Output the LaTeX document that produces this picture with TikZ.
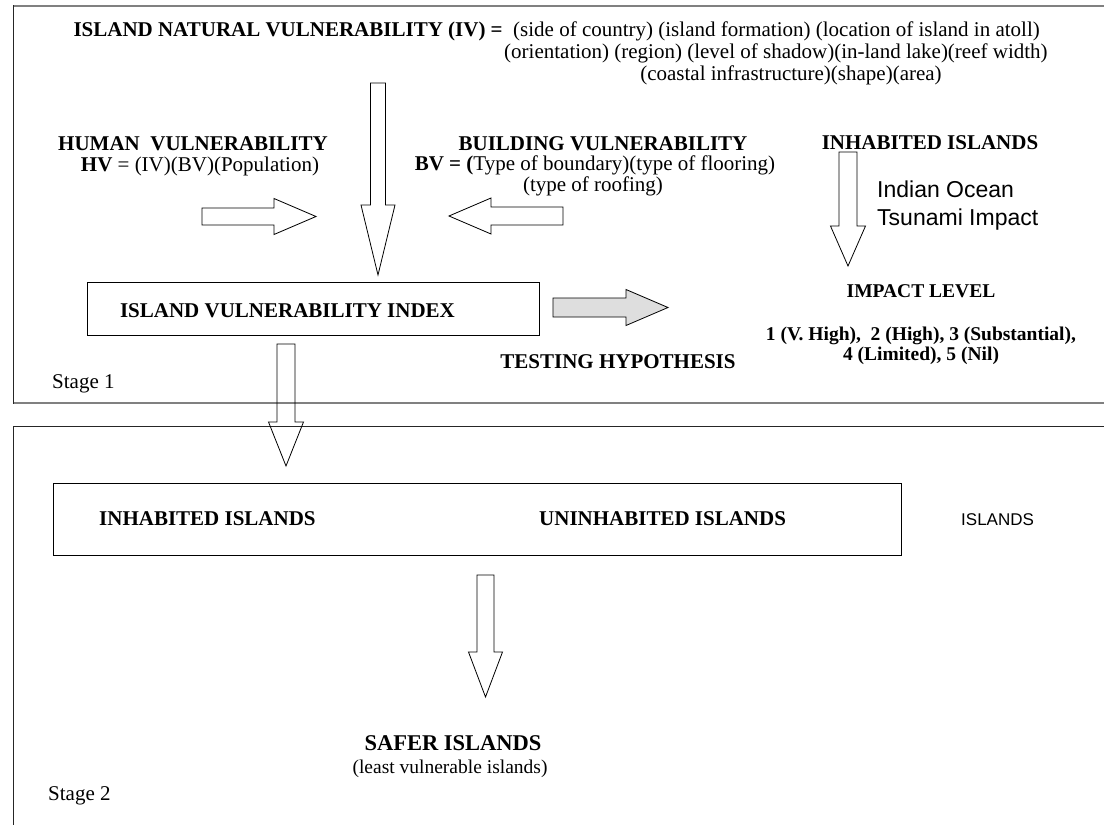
\documentclass[tikz,border=0pt]{standalone}
\usepackage{fontspec}
\setmainfont{Liberation Serif}
\newfontfamily\arialfont{Liberation Sans}
\usetikzlibrary{calc}

% outlined block arrow pointing down from #2 to #3
% #4 shaft half width, #5 head half width, #6 head length
\newcommand{\blockdown}[6][]{%
  \draw[blk,#1] let \p1=(#2), \p2=(#3) in
    (\x1-#4pt,\y1) -- (\x1-#4pt,\y2+#6pt) -- (\x1-#5pt,\y2+#6pt) -- (\x2,\y2)
    -- (\x1+#5pt,\y2+#6pt) -- (\x1+#4pt,\y2+#6pt) -- (\x1+#4pt,\y1) -- cycle;}
% horizontal block arrow from #2 to #3 (signed head length #6)
\newcommand{\blockside}[6][]{%
  \draw[blk,#1] let \p1=(#2), \p2=(#3) in
    (\x1,\y1-#4pt) -- (\x2-#6*1pt,\y1-#4pt) -- (\x2-#6*1pt,\y1-#5pt) -- (\x2,\y2)
    -- (\x2-#6*1pt,\y1+#5pt) -- (\x2-#6*1pt,\y1+#4pt) -- (\x1,\y1+#4pt) -- cycle;}

\tikzset{
  blk/.style={draw=black, line width=0.8pt, line join=miter},
  greyblk/.style={fill=black!13},
  hd/.style={font=\fontsize{21}{25}\selectfont\bfseries, inner sep=0pt, anchor=base},
  tx/.style={font=\fontsize{21}{25}\selectfont, inner sep=0pt, anchor=base},
  small hd/.style={font=\fontsize{19.5}{23}\selectfont\bfseries, inner sep=0pt, anchor=base},
  stagelbl/.style={font=\fontsize{21}{25}\selectfont, inner sep=0pt, anchor=base west},
  sans/.style={font=\arialfont\fontsize{23}{27}\selectfont, inner sep=0pt, anchor=base west},
  framerule/.style={draw=black!50, line width=2pt},
  frameside/.style={draw=black!85, line width=1pt},
  boxed/.style={draw=black, line width=0.9pt, inner sep=0pt},
}

\begin{document}
\begin{tikzpicture}[x=1pt, y=-1pt]
\useasboundingbox (0,0) rectangle (1104,825);

% ---- stage frames ----
\draw[framerule] (13,6) -- (1130,6);
\draw[framerule] (13,403) -- (1130,403);
\draw[frameside] (13,5) -- (13,404);
\draw[frameside] (1130,426) -- (13,426) -- (13,840);

% ---- natural vulnerability definition ----
\node[tx, anchor=base west] (ivl1) at (513,36) {(side of country) (island formation) (location of island in atoll)};
\node[tx, anchor=base west] (ivl2) at (504,58) {(orientation) (region) (level of shadow)(in-land lake)(reef width)};
\node[tx] (ivl3) at (791,80) {(coastal infrastructure)(shape)(area)};
\node[hd, anchor=base east] (ivtitle) at ([xshift=-10pt]ivl1.base west) {ISLAND NATURAL VULNERABILITY (IV) =};

% ---- human and building vulnerability ----
\node[hd] (hv1) at (193,150) {HUMAN\ \ VULNERABILITY};
\node[tx] (hv2) at (200,171) {\textbf{HV} = (IV)(BV)(Population)};
\node[hd] (bv1) at (603,150) {BUILDING VULNERABILITY};
\node[tx] (bv2) at (595,170) {\textbf{BV = (}Type of boundary)(type of flooring)};
\node[tx] (bv3) at (593,191) {(type of roofing)};

% ---- index box ----
\node[boxed, minimum width=452pt, minimum height=53pt] (ivi) at (313,308.5) {};
\node[hd] (ivitxt) at (287.5,317) {ISLAND VULNERABILITY INDEX};

% ---- tsunami impact ----
\node[hd] (inh) at (930,149) {INHABITED ISLANDS};
\node[sans] (ioc1) at (877,197) {Indian Ocean};
\node[sans] (ioc2) at (877,225) {Tsunami Impact};
\node[small hd] (lvl) at (921,297) {IMPACT LEVEL};
\node[small hd] (lvl1) at (921,340) {1 (V. High),\ \ 2 (High), 3 (Substantial),};
\node[small hd] (lvl2) at (921,360) {4 (Limited), 5 (Nil)};
\node[hd] (test) at (618,368) {TESTING HYPOTHESIS};
\node[stagelbl] (st1) at (52,388) {Stage 1};

% ---- stage 2 ----
\node[boxed, minimum width=848pt, minimum height=72pt] (isl) at (477,519) {};
\node[hd, anchor=base west] (inh2) at (99,525) {INHABITED ISLANDS};
\node[hd, anchor=base west] (uninh) at (539,525) {UNINHABITED ISLANDS};
\node[font=\arialfont\fontsize{17}{20}\selectfont, inner sep=0pt, anchor=base west] (islall) at (961,525) {ISLANDS};
\node[hd, font=\fontsize{22.5}{27}\selectfont\bfseries] (safe1) at (453,750) {SAFER ISLANDS};
\node[tx, font=\fontsize{19.5}{24}\selectfont] (safe2) at (450,773) {(least vulnerable islands)};
\node[stagelbl] (st2) at (48,800) {Stage 2};

% ---- arrow end points ----
\coordinate (a1s) at (378,83);    \coordinate (a1e) at (378,275);
\coordinate (ahs) at (202,216.5); \coordinate (ahe) at (316,216.5);
\coordinate (abs) at (563,216);   \coordinate (abe) at (449,216);
\coordinate (ags) at (553,307.5); \coordinate (age) at (668,307.5);
\coordinate (ais) at (848,152);   \coordinate (aie) at (848,266);
\coordinate (a2s) at (286,344);   \coordinate (a2e) at (286,466);
\coordinate (a3s) at (485.5,575); \coordinate (a3e) at (485.5,697);

% ---- block arrows ----
\blockdown{a1s}{a1e}{7.5}{17}{70}
\blockside{ahs}{ahe}{8.5}{18}{42}
\blockside{abs}{abe}{9}{18}{-42}
\blockside[greyblk]{ags}{age}{9.5}{18}{42}
\blockdown{ais}{aie}{9}{17.5}{40}
\blockdown{a2s}{a2e}{9}{17.5}{44}
\blockdown{a3s}{a3e}{8.5}{17}{45}
\end{tikzpicture}
\end{document}
